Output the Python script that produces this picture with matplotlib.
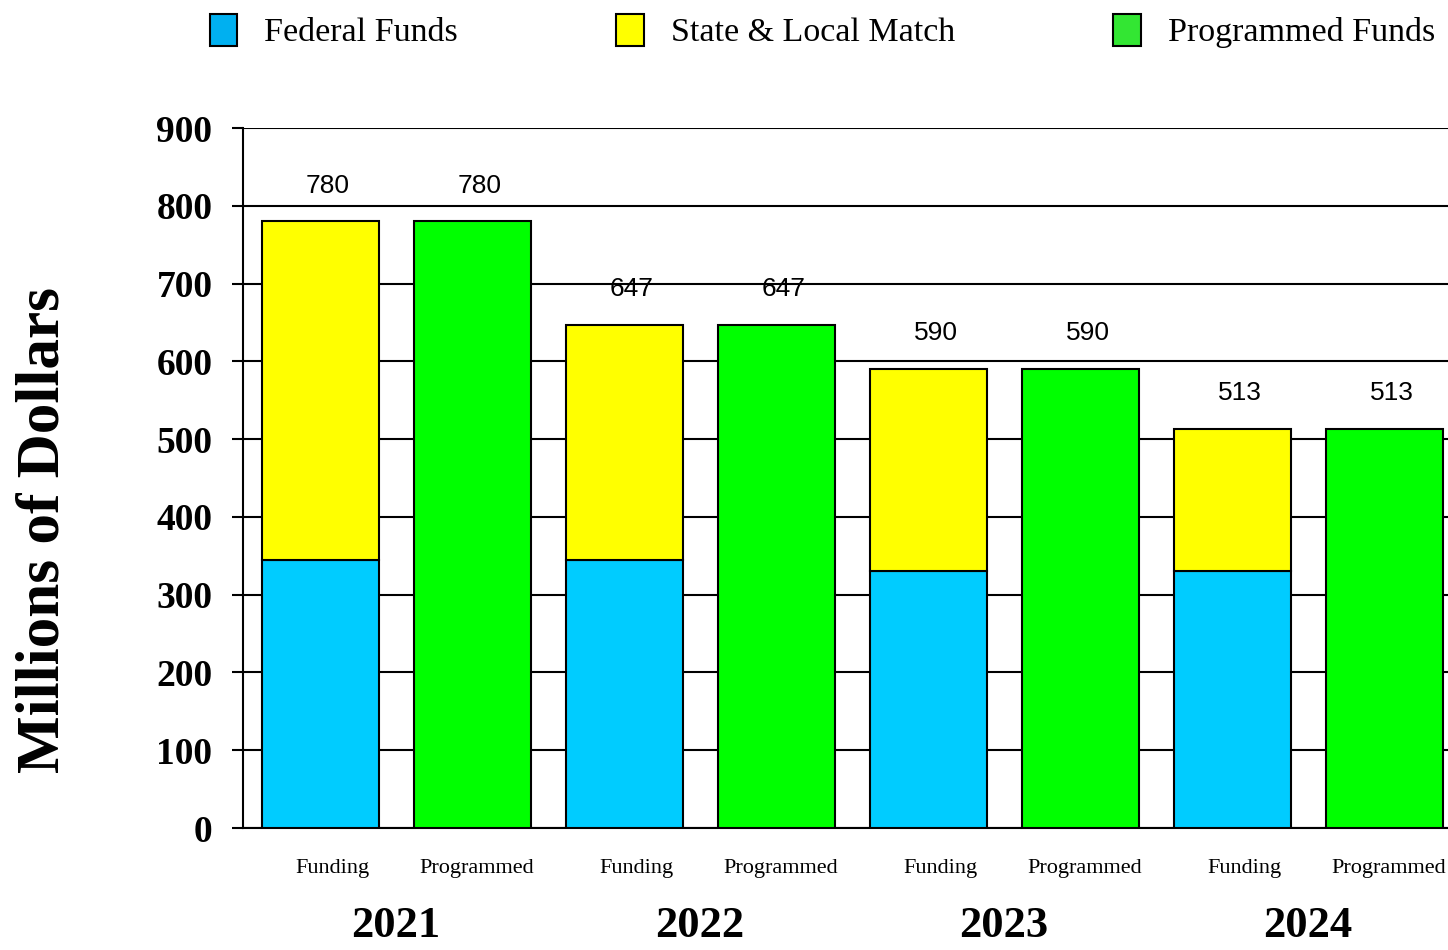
import matplotlib
matplotlib.use("Agg")
import matplotlib.pyplot as plt
from matplotlib.patches import Patch
from matplotlib.transforms import ScaledTranslation

# data (millions of dollars)
years = ["2021", "2022", "2023", "2024"]
federal = [345, 345, 330, 330]
totals = [780, 647, 590, 513]
state_local = [t - f for t, f in zip(totals, federal)]
programmed = [780, 647, 590, 513]
bar_kinds = ["Funding", "Programmed"]
legend_labels = ["Federal Funds", "State & Local Match", "Programmed Funds"]

blue = "#00CCFF"
yellow = "#FFFF00"
green = "#00FF00"
serif = ["Liberation Serif", "DejaVu Serif"]
sans = ["Liberation Sans", "DejaVu Sans"]

fig = plt.figure(figsize=(14.48, 9.5), dpi=100)
ax = fig.add_axes([243 / 1448, 1 - 828 / 950, 1 - 243 / 1448, 700 / 950])

fund_x = [2 * i for i in range(len(years))]
prog_x = [2 * i + 1 for i in range(len(years))]
w = 0.77

ax.bar(fund_x, federal, w, color=blue, edgecolor="black", linewidth=1.5, zorder=3)
ax.bar(fund_x, state_local, w, bottom=federal, color=yellow, edgecolor="black",
       linewidth=1.5, zorder=3)
ax.bar(prog_x, programmed, w, color=green, edgecolor="black", linewidth=1.5, zorder=3)

# value labels above each bar
for x, v in zip(fund_x, totals):
    ax.text(x + 0.05, v + 46, str(v), ha="center", va="center", fontsize=19,
            family=sans, color="black", zorder=4)
for x, v in zip(prog_x, programmed):
    ax.text(x + 0.05, v + 46, str(v), ha="center", va="center", fontsize=19,
            family=sans, color="black", zorder=4)

ax.set_xlim(-0.507, 7.42)
ax.set_ylim(0, 900)
ax.set_yticks(range(0, 901, 100))
ax.yaxis.grid(True, color="black", linewidth=1.5, zorder=0)
ax.tick_params(axis="y", length=8, width=1.5, pad=14, labelsize=27)
for lab in ax.get_yticklabels():
    lab.set_family(serif)
    lab.set_fontweight("bold")

ax.set_xticks([])
for s in ["top", "right"]:
    ax.spines[s].set_visible(False)
ax.spines["left"].set_linewidth(1.5)
ax.spines["bottom"].set_linewidth(1.5)

# category labels under the bars
fund_tr = ax.get_xaxis_transform() + ScaledTranslation(12 / 100, 0, fig.dpi_scale_trans)
prog_tr = ax.get_xaxis_transform() + ScaledTranslation(5 / 100, 0, fig.dpi_scale_trans)
for i in range(len(years)):
    ax.text(fund_x[i], -40 / 700, bar_kinds[0], transform=fund_tr, ha="center",
            va="center", fontsize=16, family=serif, clip_on=False)
    ax.text(prog_x[i], -40 / 700, bar_kinds[1], transform=prog_tr, ha="center",
            va="center", fontsize=16, family=serif, clip_on=False)
    ax.text((fund_x[i] + prog_x[i]) / 2, -98 / 700, years[i],
            transform=ax.get_xaxis_transform(), ha="center", va="center",
            fontsize=32, fontweight="bold", family=serif, clip_on=False)

ax.set_ylabel("Millions of Dollars", fontsize=44, fontweight="bold", family=serif)
ax.yaxis.set_label_coords(-0.142, 0.426)

handles = [Patch(facecolor="#00B0F0", edgecolor="black", linewidth=1.5),
           Patch(facecolor=yellow, edgecolor="black", linewidth=1.5),
           Patch(facecolor="#33E633", edgecolor="black", linewidth=1.5)]
fig.legend(handles, legend_labels, loc="center left", bbox_to_anchor=(210 / 1448, 1 - 31 / 950),
           ncol=3, frameon=False, prop={"family": serif, "size": 24.5},
           handlelength=0.8, handleheight=1.1, handletextpad=0.8, columnspacing=4.65,
           borderaxespad=0, borderpad=0)

fig.savefig("out.png", dpi=100)
